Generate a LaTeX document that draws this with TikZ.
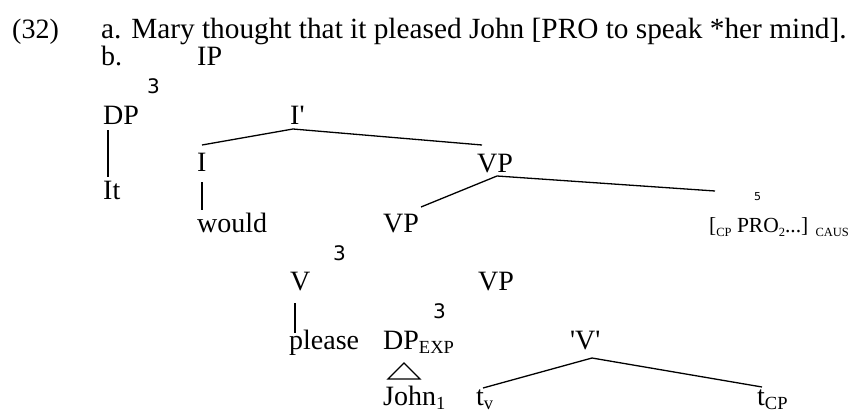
\documentclass[tikz,border=0pt]{standalone}
\usepackage{fontspec}
\setmainfont{Liberation Serif}[Ligatures=TeXOff]
\newfontfamily\numfont{DejaVu Sans}
\newcommand{\lsub}[1]{\raisebox{-4pt}{\fontsize{18.5}{20}\selectfont #1}}
\newcommand{\ssub}[1]{\raisebox{-4pt}{\fontsize{12.5}{14}\selectfont #1}}
\tikzset{
  lab/.style={anchor=base west, inner sep=0pt, font=\fontsize{28}{30}\selectfont},
  num/.style={anchor=base west, inner sep=0pt, font=\numfont\fontsize{20}{22}\selectfont},
  branch/.style={line width=1.3pt}
}
\begin{document}
\begin{tikzpicture}[x=1pt,y=-1pt]
\useasboundingbox (0,0) rectangle (853,412);
% header
\node[lab] (ex) at (12,39) {(32)};
\node[lab, font=\fontsize{29.3}{30}\selectfont] (sa) at (101,39) {a. Mary thought that it pleased John [PRO to speak *her mind].};
\node[lab] (sb) at (101,65) {b.};
\node[lab] (IP) at (197,65) {IP};
\node[num] (n1) at (147,93) {3};
\node[lab] (DP) at (103,124) {DP};
\node[lab] (Ibar) at (290,124) {I'};
\node[lab] (I) at (197,171) {I};
\node[lab] (VP1) at (477,172) {VP};
\node[lab] (It) at (103,199) {It};
\node[lab] (would) at (197,232) {would};
\node[lab] (VP2) at (383,232) {VP};
\node[lab, font=\fontsize{21.5}{24}\selectfont] (CP) at (709,232) {[\ssub{CP} PRO\ssub{2}...] \ssub{CAUS}};
\node[num, font=\numfont\fontsize{11}{12}\selectfont] (n5) at (754,200) {5};
\node[num] (n2) at (333,260) {3};
\node[lab] (V) at (290,290) {V};
\node[lab] (VP3) at (478,290) {VP};
\node[num] (n3) at (433,318) {3};
\node[lab] (please) at (289,349) {please};
\node[lab] (DPexp) at (383,349) {DP\lsub{EXP}};
\node[lab] (Vq) at (570,349) {'V'};
\node[lab] (John) at (383,405) {John\lsub{1}};
\node[lab] (tv) at (476,405) {t\lsub{v}};
\node[lab] (tcp) at (757,405) {t\lsub{CP}};
% line ends
\coordinate (aDP) at (108,130);  \coordinate (aIt) at (108,177);
\coordinate (aIb) at (293,129);  \coordinate (aI) at (202,145); \coordinate (aVP1) at (482,145);
\coordinate (bI) at (202,182);   \coordinate (bW) at (202,210);
\coordinate (cVP) at (497,176);  \coordinate (cVP2) at (421,207); \coordinate (cCP) at (715,191);
\coordinate (dV) at (295,303);   \coordinate (dP) at (295,333);
\coordinate (eV) at (592,358);   \coordinate (eT) at (483,388); \coordinate (eC) at (762,387);
\coordinate (t1) at (388,379);   \coordinate (t2) at (420,379); \coordinate (t3) at (404,363);
\draw[branch] (aDP) -- (aIt);
\draw[branch] (aI) -- (aIb) -- (aVP1);
\draw[branch] (bI) -- (bW);
\draw[branch] (cVP2) -- (cVP) -- (cCP);
\draw[branch] (dV) -- (dP);
\draw[branch] (eT) -- (eV) -- (eC);
\draw[branch] (t1) -- (t2) -- (t3) -- cycle;
\end{tikzpicture}
\end{document}
